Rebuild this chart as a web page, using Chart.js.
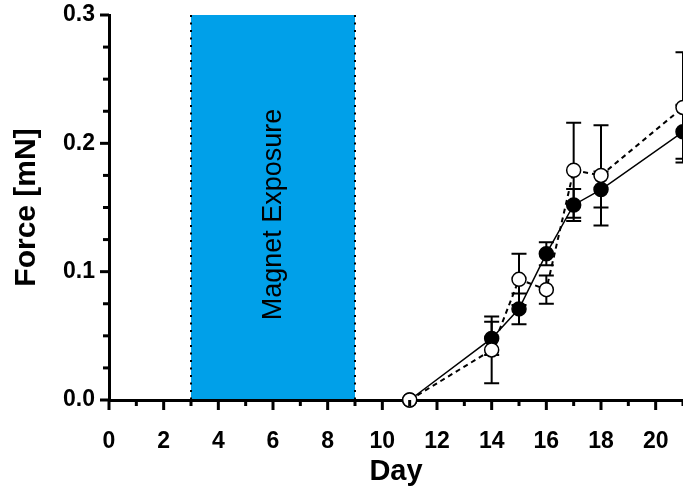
<!DOCTYPE html>
<html>
<head>
<meta charset="utf-8">
<script src="https://cdn.jsdelivr.net/npm/chart.js@4"></script>
<style>
  html, body { margin: 0; padding: 0; background: #fff; }
  #wrap { width: 683px; height: 495px; position: relative; }
</style>
</head>
<body>
<div id="wrap"><canvas id="c" width="683" height="495"></canvas></div>
<script>
// ---- data ----
const days = [11, 14, 15, 16, 17, 18, 21];
const filledForce = [0, 0.048, 0.071, 0.114, 0.152, 0.164, 0.209];
const filledErr   = [0, 0.013, 0.012, 0.009, 0.0125, 0.014, 0.021];
const openForce   = [0, 0.039, 0.094, 0.086, 0.179, 0.175, 0.228];
const openErr     = [0, 0.026, 0.020, 0.011, 0.037, 0.039, 0.043];
const exposureStart = 3;
const exposureEnd = 9;
const exposureLabel = 'Magnet Exposure';
const xTitle = 'Day';
const yTitle = 'Force [mN]';

const FONT = '"Liberation Sans", Arial, sans-serif';

const toPts = (xs, ys) => xs.map((x, i) => ({ x: x, y: ys[i] }));

const bgPlugin = {
  id: 'exposureBox',
  beforeDraw(chart) {
    const { ctx, scales: { x, y } } = chart;
    const x1 = x.getPixelForValue(exposureStart);
    const x2 = x.getPixelForValue(exposureEnd);
    const yTop = y.getPixelForValue(0.3);
    const yBot = y.getPixelForValue(0);
    ctx.save();
    ctx.fillStyle = '#00A0E9';
    ctx.fillRect(x1, yTop, x2 - x1, yBot - yTop);
    ctx.strokeStyle = '#000';
    ctx.lineWidth = 2;
    ctx.setLineDash([2, 5.5]);
    [x1, x2].forEach(px => {
      ctx.beginPath();
      ctx.moveTo(px, yTop);
      ctx.lineTo(px, yBot);
      ctx.stroke();
    });
    ctx.setLineDash([]);
    ctx.translate((x1 + x2) / 2 + 1, (yTop + yBot) / 2 + 7);
    ctx.rotate(-Math.PI / 2);
    ctx.fillStyle = '#000';
    ctx.font = '27px ' + FONT;
    ctx.textAlign = 'center';
    ctx.textBaseline = 'middle';
    ctx.fillText(exposureLabel, 0, 0);
    ctx.restore();
  }
};

const errPlugin = {
  id: 'errorBars',
  beforeDatasetsDraw(chart) {
    const { ctx, scales: { x, y } } = chart;
    const sets = [[filledForce, filledErr], [openForce, openErr]];
    ctx.save();
    ctx.strokeStyle = '#000';
    ctx.lineWidth = 2;
    sets.forEach(([vals, errs]) => {
      days.forEach((d, i) => {
        if (!errs[i]) return;
        const px = x.getPixelForValue(d);
        const yHi = y.getPixelForValue(vals[i] + errs[i]);
        const yLo = y.getPixelForValue(vals[i] - errs[i]);
        ctx.beginPath();
        ctx.moveTo(px, yHi); ctx.lineTo(px, yLo);
        ctx.moveTo(px - 7.5, yHi); ctx.lineTo(px + 7.5, yHi);
        ctx.moveTo(px - 7.5, yLo); ctx.lineTo(px + 7.5, yLo);
        ctx.stroke();
      });
    });
    ctx.restore();
  }
};

const tickPlugin = {
  id: 'axisTicks',
  afterDraw(chart) {
    const { ctx, chartArea: a, scales: { x, y } } = chart;
    ctx.save();
    ctx.strokeStyle = '#000';
    ctx.lineWidth = 3;
    for (let v = 0; v <= 21; v++) {
      const px = x.getPixelForValue(v);
      const len = v % 2 === 0 ? 10 : 6;
      ctx.beginPath();
      ctx.moveTo(px, a.bottom);
      ctx.lineTo(px, a.bottom + len);
      ctx.stroke();
    }
    for (let k = 0; k <= 12; k++) {
      const v = k * 0.025;
      const py = y.getPixelForValue(v);
      const len = k % 4 === 0 ? 9 : 6;
      ctx.beginPath();
      ctx.moveTo(a.left, py);
      ctx.lineTo(a.left - len, py);
      ctx.stroke();
    }
    ctx.restore();
  }
};

new Chart(document.getElementById('c'), {
  type: 'scatter',
  data: {
    datasets: [
      {
        label: 'open',
        data: toPts(days, openForce),
        showLine: true,
        borderColor: '#000',
        borderWidth: 2,
        borderDash: [5, 4],
        pointRadius: 7,
        pointBorderWidth: 1.5,
        pointBackgroundColor: '#fff',
        pointBorderColor: '#000',
        clip: false
      },
      {
        label: 'filled',
        data: toPts(days, filledForce),
        showLine: true,
        borderColor: '#000',
        borderWidth: 1.5,
        pointRadius: 7,
        pointBorderWidth: 1.5,
        pointBackgroundColor: '#000',
        pointBorderColor: '#000',
        clip: false
      }
    ]
  },
  options: {
    responsive: false,
    animation: false,
    devicePixelRatio: 1,
    layout: { autoPadding: false, padding: { left: 0, right: 0, top: 15, bottom: 0 } },
    plugins: { legend: { display: false }, tooltip: { enabled: false } },
    scales: {
      x: {
        type: 'linear',
        min: 0, max: 21,
        afterFit: s => { s.height = 95; s.paddingRight = 0; s.paddingLeft = 0; },
        grid: { display: false, drawTicks: false },
        border: { display: true, color: '#000', width: 3 },
        ticks: {
          stepSize: 1,
          autoSkip: false,
          maxRotation: 0,
          padding: 28,
          color: '#000',
          font: { family: FONT, size: 23, weight: 'bold' },
          callback: v => (v % 2 === 0 && v <= 20) ? String(v) : ''
        },
        title: {
          display: true, text: xTitle, color: '#000',
          font: { family: FONT, size: 29, weight: 'bold' },
          padding: { top: 0, bottom: 6 }
        }
      },
      y: {
        type: 'linear',
        min: 0, max: 0.3,
        afterFit: s => { s.width = 109; s.paddingTop = 0; s.paddingBottom = 0; },
        grid: { display: false, drawTicks: false },
        border: { display: true, color: '#000', width: 3 },
        ticks: {
          stepSize: 0.1,
          padding: 14,
          color: '#000',
          font: { family: FONT, size: 23, weight: 'bold' },
          callback: v => v.toFixed(1)
        },
        title: {
          display: true, text: yTitle, color: '#000',
          font: { family: FONT, size: 30, weight: 'bold' },
          padding: { top: 9, bottom: 0 }
        }
      }
    }
  },
  plugins: [bgPlugin, errPlugin, tickPlugin]
});
</script>
</body>
</html>
